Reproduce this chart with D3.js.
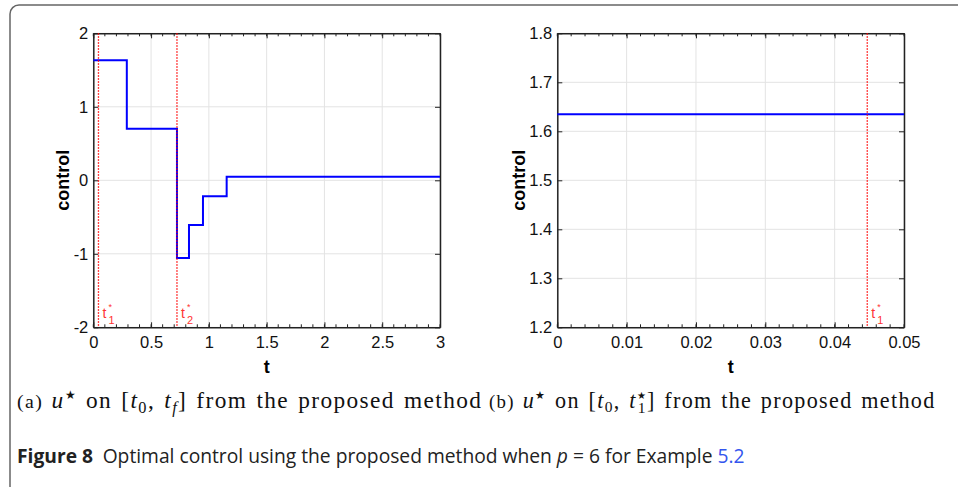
<!DOCTYPE html>
<html>
<head>
<meta charset="utf-8">
<script src="https://cdn.jsdelivr.net/npm/d3@7"></script>
<style>
  body { margin: 0; background: #fff; }
  svg { display: block; }
  text { font-family: "Liberation Sans", Arial, sans-serif; }
</style>
</head>
<body>
<svg width="958" height="487"></svg>
<script>
// panel (a): piecewise constant control on [t0, tf]
var stepT = [0, 0.29, 0.724, 0.828, 0.949, 1.154, 3];
var stepU = [1.635, 0.70, -1.057, -0.608, -0.218, 0.047];
var switchA = [0.0447, 0.724];
var switchNamesA = ["1", "2"];
var xTicksA = [0, 0.5, 1, 1.5, 2, 2.5, 3];
var yTicksA = [-2, -1, 0, 1, 2];

// panel (b): zoom on [t0, t1*]
var tB = [0, 0.05];
var uB = [1.635, 1.635];
var switchB = [0.0447];
var switchNamesB = ["1"];
var xTicksB = [0, 0.01, 0.02, 0.03, 0.04, 0.05];
var yTicksB = [1.2, 1.3, 1.4, 1.5, 1.6, 1.7, 1.8];

var svg = d3.select("svg");

// outer frame (bottom and right edge run off the page)
svg.append("rect")
  .attr("x", 10).attr("y", 5)
  .attr("width", 1000).attr("height", 490)
  .attr("rx", 9)
  .style("fill", "none")
  .style("stroke", "#666")
  .style("stroke-width", "1.5px");

function drawPanel(opt) {
  var g = svg.append("g");
  var x = d3.scaleLinear().domain(opt.xDomain).range([opt.left, opt.right]);
  var y = d3.scaleLinear().domain(opt.yDomain).range([opt.bottom, opt.top]);

  // grid
  g.selectAll(".gx").data(opt.xTicks).enter().append("line")
    .attr("x1", function(d){ return x(d); }).attr("x2", function(d){ return x(d); })
    .attr("y1", opt.top).attr("y2", opt.bottom)
    .style("stroke", "#e3e3e3").style("stroke-width", "1px");
  g.selectAll(".gy").data(opt.yTicks).enter().append("line")
    .attr("x1", opt.left).attr("x2", opt.right)
    .attr("y1", function(d){ return y(d); }).attr("y2", function(d){ return y(d); })
    .style("stroke", "#e3e3e3").style("stroke-width", "1px");

  // minor ticks on x (top and bottom)
  var minor = d3.range(opt.xDomain[0], opt.xDomain[1] + opt.minorStep / 2, opt.minorStep);
  g.selectAll(".mb").data(minor).enter().append("line")
    .attr("x1", function(d){ return x(d); }).attr("x2", function(d){ return x(d); })
    .attr("y1", opt.bottom).attr("y2", opt.bottom - 3)
    .style("stroke", "#222").style("stroke-width", "1px");
  g.selectAll(".mt").data(minor).enter().append("line")
    .attr("x1", function(d){ return x(d); }).attr("x2", function(d){ return x(d); })
    .attr("y1", opt.top).attr("y2", opt.top + 3)
    .style("stroke", "#222").style("stroke-width", "1px");

  // axes
  var fmt = function(d){ return String(d); };
  var axB = g.append("g").attr("transform", "translate(0," + opt.bottom + ")")
    .call(d3.axisBottom(x).tickValues(opt.xTicks).tickSizeInner(-5).tickSizeOuter(0).tickPadding(9).tickFormat(fmt));
  var axT = g.append("g").attr("transform", "translate(0," + opt.top + ")")
    .call(d3.axisTop(x).tickValues(opt.xTicks).tickSizeInner(-5).tickSizeOuter(0).tickFormat(""));
  var axL = g.append("g").attr("transform", "translate(" + opt.left + ",0)")
    .call(d3.axisLeft(y).tickValues(opt.yTicks).tickSizeInner(-5).tickSizeOuter(0).tickPadding(5).tickFormat(fmt));
  var axR = g.append("g").attr("transform", "translate(" + opt.right + ",0)")
    .call(d3.axisRight(y).tickValues(opt.yTicks).tickSizeInner(-5).tickSizeOuter(0).tickFormat(""));
  [axB, axT, axL, axR].forEach(function(a){
    a.select(".domain").style("stroke", "#222").style("stroke-width", "1.5px");
    a.selectAll(".tick line").style("stroke", "#222");
    a.selectAll("text").style("font-size", "16.5px").style("fill", "#111")
      .style("font-family", "Liberation Sans, Arial, sans-serif");
  });

  // control
  var line = d3.line()
    .x(function(d){ return x(d[0]); })
    .y(function(d){ return y(d[1]); })
    .curve(d3.curveStepAfter);
  var pts = opt.t.map(function(t, i){ return [t, opt.u[Math.min(i, opt.u.length - 1)]]; });
  g.append("path").datum(pts)
    .attr("d", line)
    .style("fill", "none")
    .style("stroke", "#0000ff")
    .style("stroke-width", "2px");

  // switching times
  opt.sw.forEach(function(s, i){
    g.append("line")
      .attr("x1", x(s)).attr("x2", x(s))
      .attr("y1", opt.top).attr("y2", opt.bottom)
      .style("stroke", "#ff0000")
      .style("stroke-width", "1.3px")
      .style("stroke-dasharray", "1.5,1.5");
    g.append("text")
      .attr("x", x(s) + 4).attr("y", opt.bottom - 9)
      .style("fill", "#ff3333").style("font-size", "14px")
      .text("t");
    g.append("text")
      .attr("x", x(s) + 10).attr("y", opt.bottom - 17)
      .style("fill", "#ff3333").style("font-size", "9px")
      .text("*");
    g.append("text")
      .attr("x", x(s) + 10).attr("y", opt.bottom - 3)
      .style("fill", "#ff3333").style("font-size", "11px")
      .text(opt.swNames[i]);
  });

  // axis titles
  g.append("text")
    .attr("transform", "translate(" + opt.yLabelX + "," + (opt.top + opt.bottom) / 2 + ") rotate(-90)")
    .attr("text-anchor", "middle")
    .style("font-weight", "bold").style("font-size", "18px")
    .text("control");
  g.append("text")
    .attr("x", (opt.left + opt.right) / 2).attr("y", 373)
    .attr("text-anchor", "middle")
    .style("font-weight", "bold").style("font-size", "18px")
    .text("t");
}

drawPanel({
  left: 93.3, right: 440, top: 33.3, bottom: 327.3,
  xDomain: [0, 3], yDomain: [-2, 2], minorStep: 0.1,
  xTicks: xTicksA, yTicks: yTicksA,
  t: stepT, u: stepU, sw: switchA, swNames: switchNamesA,
  yLabelX: 69
});

drawPanel({
  left: 557.3, right: 904, top: 33.3, bottom: 327.3,
  xDomain: [0, 0.05], yDomain: [1.2, 1.8], minorStep: 0.002,
  xTicks: xTicksB, yTicks: yTicksB,
  t: tB, u: uB, sw: switchB, swNames: switchNamesB,
  yLabelX: 525
});

// sub-captions in LaTeX style, built for font size fs
function buildSubCaption(xPos, letter, sub, fs) {
  var t = svg.append("text")
    .attr("x", xPos).attr("y", 408)
    .style("font-family", "'Liberation Serif', 'DejaVu Serif', serif")
    .style("font-size", fs + "px").style("fill", "#111")
    .style("letter-spacing", (0.06 * fs) + "px").style("word-spacing", (0.08 * fs) + "px");
  t.append("tspan").style("font-size", (0.85 * fs) + "px").text("(" + letter + ") ");
  t.append("tspan").style("font-style", "italic").text("u");
  t.append("tspan").attr("dy", -0.4 * fs).style("font-size", (0.5 * fs) + "px").text("\u2605");
  t.append("tspan").attr("dy", 0.4 * fs).text(" on [");
  t.append("tspan").style("font-style", "italic").text("t");
  t.append("tspan").attr("dy", 0.2 * fs).style("font-size", (0.7 * fs) + "px").text("0");
  t.append("tspan").attr("dy", -0.2 * fs).text(", ");
  t.append("tspan").style("font-style", "italic").text("t");
  if (sub === "f") {
    t.append("tspan").attr("dy", 0.2 * fs).style("font-size", (0.7 * fs) + "px").style("font-style", "italic").text("f");
    t.append("tspan").attr("dy", -0.2 * fs).text("] from the proposed method");
  } else {
    t.append("tspan").attr("dy", -0.4 * fs).style("font-size", (0.45 * fs) + "px").text("\u2605");
    t.append("tspan").attr("dy", 0.62 * fs).attr("dx", -0.42 * fs).style("font-size", (0.7 * fs) + "px").text("1");
    t.append("tspan").attr("dy", -0.22 * fs).text("] from the proposed method");
  }
  return t;
}
function subCaption(xPos, letter, sub, width) {
  var t = buildSubCaption(xPos, letter, sub, 20);
  var fs = 20 * width / t.node().getComputedTextLength();
  t.remove();
  return buildSubCaption(xPos, letter, sub, fs);
}
subCaption(17, "a", "f", 465);
subCaption(489, "b", "1", 456);

// figure caption, sized to the reference width
var cap = svg.append("text")
  .attr("x", 17).attr("y", 463)
  .style("font-family", "'Open Sans', 'Noto Sans', sans-serif")
  .style("font-size", "18px").style("fill", "#222");
cap.append("tspan").style("font-weight", "bold").text("Figure 8");
cap.append("tspan").text("\u2002Optimal control using the proposed method when ");
cap.append("tspan").style("font-style", "italic").text("p");
cap.append("tspan").text(" = 6 for Example ");
cap.append("tspan").style("fill", "#3355ee").text("5.2");
cap.style("font-size", (18 * 728 / cap.node().getComputedTextLength()) + "px");
</script>
</body>
</html>
